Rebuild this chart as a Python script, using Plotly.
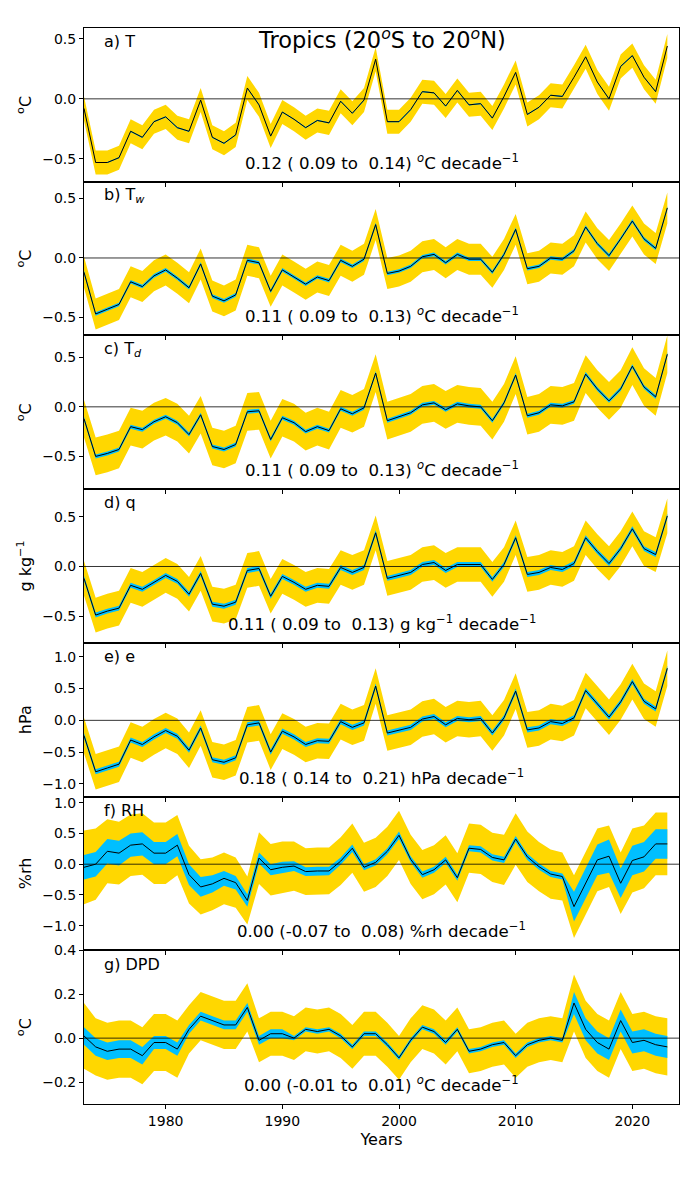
import plotly.graph_objects as go
from plotly.subplots import make_subplots

years = list(range(1973, 2024))

T = [-0.08, -0.53, -0.53, -0.49, -0.27, -0.32, -0.19, -0.15, -0.24, -0.27,
     -0.01, -0.32, -0.37, -0.30, 0.09, -0.05, -0.31, -0.11, -0.17, -0.24,
     -0.18, -0.20, -0.02, -0.12, -0.01, 0.33, -0.19, -0.19, -0.09, 0.06,
     0.05, -0.06, 0.07, -0.05, -0.04, -0.16, 0.02, 0.22, -0.13, -0.07,
     0.03, 0.02, 0.18, 0.35, 0.14, 0.00, 0.27, 0.36, 0.18, 0.06, 0.44]
Tw = [-0.12, -0.47, -0.43, -0.39, -0.20, -0.24, -0.15, -0.10, -0.17, -0.25,
      -0.05, -0.32, -0.36, -0.31, -0.02, -0.04, -0.28, -0.10, -0.16, -0.22,
      -0.16, -0.19, -0.02, -0.07, -0.01, 0.28, -0.13, -0.11, -0.07, 0.01,
      0.03, -0.04, 0.03, -0.01, -0.01, -0.12, 0.03, 0.24, -0.09, -0.07,
      0.00, -0.01, 0.06, 0.26, 0.12, 0.02, 0.16, 0.31, 0.16, 0.08, 0.42]
Td = [-0.12, -0.50, -0.47, -0.43, -0.20, -0.23, -0.15, -0.10, -0.16, -0.28,
      -0.08, -0.40, -0.43, -0.38, -0.05, -0.04, -0.33, -0.11, -0.16, -0.25,
      -0.20, -0.24, -0.02, -0.07, -0.01, 0.34, -0.14, -0.10, -0.06, 0.02,
      0.04, -0.03, 0.03, 0.01, 0.00, -0.14, 0.04, 0.32, -0.09, -0.06,
      0.02, 0.01, 0.05, 0.33, 0.18, 0.06, 0.18, 0.41, 0.20, 0.10, 0.53]
q = [-0.12, -0.49, -0.45, -0.42, -0.19, -0.23, -0.16, -0.09, -0.15, -0.28,
     -0.07, -0.38, -0.40, -0.36, -0.04, -0.02, -0.30, -0.10, -0.16, -0.23,
     -0.19, -0.20, -0.01, -0.06, -0.01, 0.34, -0.12, -0.09, -0.06, 0.02,
     0.04, -0.04, 0.02, 0.02, 0.02, -0.13, 0.02, 0.29, -0.08, -0.06,
     -0.01, -0.03, 0.03, 0.29, 0.15, 0.03, 0.18, 0.38, 0.18, 0.12, 0.51]
e = [-0.24, -0.81, -0.75, -0.69, -0.31, -0.38, -0.26, -0.16, -0.25, -0.47,
     -0.12, -0.62, -0.66, -0.59, -0.07, -0.04, -0.50, -0.17, -0.26, -0.38,
     -0.32, -0.33, -0.02, -0.11, -0.04, 0.54, -0.20, -0.16, -0.11, 0.02,
     0.06, -0.07, 0.03, 0.01, 0.03, -0.20, 0.04, 0.46, -0.15, -0.12,
     -0.02, -0.05, 0.04, 0.47, 0.26, 0.05, 0.29, 0.61, 0.30, 0.18, 0.82]
RH = [-0.05, 0.00, 0.21, 0.18, 0.31, 0.33, 0.18, 0.18, 0.31, -0.17,
      -0.37, -0.32, -0.23, -0.30, -0.59, 0.10, -0.09, -0.05, -0.03, -0.12,
      -0.11, -0.11, 0.05, 0.26, -0.05, 0.03, 0.21, 0.47, 0.08, -0.17,
      -0.09, 0.07, -0.22, 0.26, 0.24, 0.11, 0.07, 0.41, 0.12, -0.04,
      -0.16, -0.20, -0.69, -0.31, 0.07, 0.13, -0.31, 0.06, 0.12, 0.33, 0.33]
DPD = [0.01, -0.04, -0.06, -0.05, -0.05, -0.08, -0.02, -0.02, -0.05, 0.04,
       0.10, 0.08, 0.06, 0.06, 0.14, -0.01, 0.02, 0.02, 0.00, 0.04,
       0.03, 0.04, 0.01, -0.04, 0.02, 0.02, -0.03, -0.09, -0.01, 0.05,
       0.03, -0.02, 0.04, -0.06, -0.05, -0.03, -0.02, -0.08, -0.03, -0.01,
       0.00, -0.01, 0.16, 0.04, -0.02, -0.05, 0.08, -0.02, -0.01, -0.03, -0.04]

# total (yellow) and smaller (blue) half-widths of the uncertainty bands
T_tot, T_blue = 0.10, 0.005
Tw_tot, Tw_blue = 0.13, 0.015
Td_tot, Td_blue = 0.19, 0.02
q_tot, q_blue = 0.175, 0.025
e_tot, e_blue = 0.28, 0.04
RH_tot = [0.60, 0.58, 0.52, 0.51, 0.50, 0.50, 0.50, 0.50, 0.49, 0.47,
          0.45, 0.43, 0.42, 0.41, 0.39, 0.42, 0.42, 0.42, 0.40, 0.38,
          0.38, 0.38, 0.39, 0.40, 0.40, 0.40, 0.40, 0.40, 0.40, 0.40,
          0.40, 0.40, 0.40, 0.40, 0.40, 0.40, 0.41, 0.42, 0.41, 0.40,
          0.40, 0.39, 0.51, 0.51, 0.51, 0.50, 0.50, 0.52, 0.51, 0.51, 0.51]
RH_blue = [0.20, 0.20, 0.20, 0.20, 0.19, 0.19, 0.18, 0.18, 0.18, 0.17,
           0.16, 0.14, 0.12, 0.11, 0.10, 0.09, 0.09, 0.09, 0.08, 0.07,
           0.07, 0.07, 0.06, 0.06, 0.05, 0.05, 0.05, 0.06, 0.05, 0.05,
           0.05, 0.05, 0.05, 0.05, 0.05, 0.05, 0.05, 0.05, 0.05, 0.05,
           0.05, 0.05, 0.24, 0.24, 0.25, 0.27, 0.24, 0.24, 0.24, 0.24, 0.24]
DPD_tot = [0.15, 0.13, 0.13, 0.13, 0.13, 0.13, 0.13, 0.13, 0.13, 0.11,
           0.11, 0.11, 0.11, 0.11, 0.11, 0.10, 0.10, 0.10, 0.10, 0.10,
           0.10, 0.10, 0.10, 0.10, 0.10, 0.10, 0.10, 0.10, 0.10, 0.10,
           0.10, 0.10, 0.10, 0.10, 0.10, 0.10, 0.10, 0.10, 0.10, 0.10,
           0.10, 0.10, 0.13, 0.13, 0.13, 0.13, 0.13, 0.13, 0.13, 0.13, 0.13]
DPD_blue = [0.04, 0.04, 0.04, 0.04, 0.04, 0.04, 0.03, 0.03, 0.03, 0.02,
            0.02, 0.02, 0.02, 0.02, 0.02, 0.02, 0.02, 0.02, 0.01, 0.01,
            0.01, 0.01, 0.01, 0.01, 0.01, 0.01, 0.01, 0.01, 0.01, 0.01,
            0.01, 0.01, 0.01, 0.01, 0.01, 0.01, 0.01, 0.01, 0.01, 0.01,
            0.01, 0.01, 0.05, 0.05, 0.05, 0.05, 0.05, 0.05, 0.05, 0.05, 0.05]

labels = ["a) T", "b) T<sub><i>w</i></sub>", "c) T<sub><i>d</i></sub>", "d) q",
          "e) e", "f) RH", "g) DPD"]
units = ["<sup>o</sup>C", "<sup>o</sup>C", "<sup>o</sup>C", "g kg<sup>−1</sup>",
         "hPa", "%rh", "<sup>o</sup>C"]
trends = ["0.12 ( 0.09 to  0.14) <sup><i>o</i></sup>C decade<sup>−1</sup>",
          "0.11 ( 0.09 to  0.13) <sup><i>o</i></sup>C decade<sup>−1</sup>",
          "0.11 ( 0.09 to  0.13) <sup><i>o</i></sup>C decade<sup>−1</sup>",
          "0.11 ( 0.09 to  0.13) g kg<sup>−1</sup> decade<sup>−1</sup>",
          "0.18 ( 0.14 to  0.21) hPa decade<sup>−1</sup>",
          "0.00 (-0.07 to  0.08) %rh decade<sup>−1</sup>",
          "0.00 (-0.01 to  0.01) <sup><i>o</i></sup>C decade<sup>−1</sup>"]
yranges = [[-0.69, 0.59], [-0.65, 0.64], [-0.83, 0.72], [-0.77, 0.78],
           [-1.2, 1.22], [-1.4, 1.1], [-0.3, 0.4]]
dticks = [0.5, 0.5, 0.5, 0.5, 0.5, 0.5, 0.2]

series = [T, Tw, Td, q, e, RH, DPD]
tots = [T_tot, Tw_tot, Td_tot, q_tot, e_tot, RH_tot, DPD_tot]
blues = [T_blue, Tw_blue, Td_blue, q_blue, e_blue, RH_blue, DPD_blue]

GOLD = "#FFD700"
BLUE = "#00BFFF"
FONT = "DejaVu Sans"

fig = make_subplots(rows=7, cols=1, shared_xaxes=True, vertical_spacing=0)

def band(vals, hw):
    if not isinstance(hw, list):
        hw = [hw] * len(vals)
    up = [v + h for v, h in zip(vals, hw)]
    lo = [v - h for v, h in zip(vals, hw)]
    return years + years[::-1], up + lo[::-1]

for i, (vals, tot, bl) in enumerate(zip(series, tots, blues)):
    r = i + 1
    bx, by = band(vals, tot)
    fig.add_trace(go.Scatter(x=bx, y=by, fill="toself", fillcolor=GOLD,
                             line=dict(width=0), mode="lines", hoverinfo="skip",
                             showlegend=False), row=r, col=1)
    bx, by = band(vals, bl)
    fig.add_trace(go.Scatter(x=bx, y=by, fill="toself", fillcolor=BLUE,
                             line=dict(width=0), mode="lines", hoverinfo="skip",
                             showlegend=False), row=r, col=1)
    fig.add_trace(go.Scatter(x=years, y=vals, mode="lines",
                             line=dict(color="black", width=1),
                             showlegend=False), row=r, col=1)
    fig.add_hline(y=0, line=dict(color="black", width=0.8), row=r, col=1)
    yname = "y" if r == 1 else f"y{r}"
    xname = "x" if r == 1 else f"x{r}"
    fig.add_annotation(text=labels[i], xref=f"{xname} domain",
                       yref=f"{yname} domain", x=0.03, y=0.91, xanchor="left",
                       yanchor="middle", showarrow=False,
                       font=dict(size=16, family=FONT, color="black"))
    fig.add_annotation(text=trends[i], xref=f"{xname} domain",
                       yref=f"{yname} domain", x=0.5, y=0.13, xanchor="center",
                       yanchor="middle", showarrow=False,
                       font=dict(size=16.6, family=FONT, color="black"))
    fig.update_yaxes(range=yranges[i], dtick=dticks[i], tickformat=".1f",
                     title=dict(text=units[i], font=dict(size=16, family=FONT),
                                standoff=6),
                     row=r, col=1)

fig.add_annotation(text="Tropics (20<sup><i>o</i></sup>S to 20<sup><i>o</i></sup>N)",
                   xref="x domain", yref="y domain", x=0.5, y=0.93,
                   xanchor="center", yanchor="middle", showarrow=False,
                   font=dict(size=22.5, family=FONT, color="black"))

fig.update_xaxes(range=[1973, 2024], showline=True, linecolor="black",
                 linewidth=1, mirror=True, showgrid=False, zeroline=False,
                 ticks="outside", ticklen=4, tickcolor="black",
                 tickvals=[1980, 1990, 2000, 2010, 2020],
                 tickfont=dict(size=14, family=FONT, color="black"))
fig.update_xaxes(title=dict(text="Years", font=dict(size=16, family=FONT),
                            standoff=6), row=7, col=1)
fig.update_yaxes(showline=True, linecolor="black", linewidth=1, mirror=True,
                 showgrid=False, zeroline=False, ticks="outside", ticklen=4,
                 tickcolor="black", tickfont=dict(size=14, family=FONT, color="black"))

# page body has an 8px default margin, so the figure is offset by 8px
fig.update_layout(width=692, height=1192, plot_bgcolor="white",
                  paper_bgcolor="white",
                  margin=dict(l=76, r=21, t=16, b=96),
                  font=dict(family=FONT, color="black"))

fig.write_html("out.html")
